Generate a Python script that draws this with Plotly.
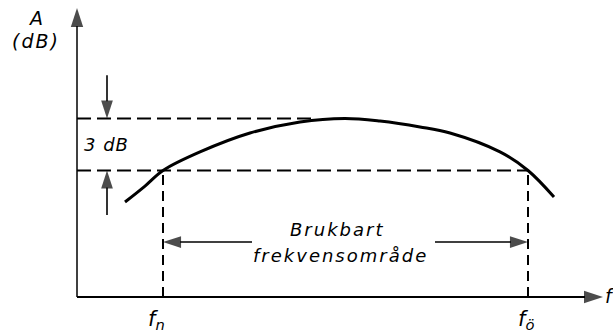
import plotly.graph_objects as go

# ---- data (frequency in arbitrary units, amplitude in dB) ----
freq = [4.8, 6.8, 8.6, 12.3, 17.3, 22.3, 26.8, 30.3, 34.3, 37.3, 42.3, 45.1, 47.7]
amplitude_db = [5.48, 6.40, 7.3, 8.37, 9.46, 10.10, 10.3, 10.15, 9.81, 9.46, 8.37, 7.3, 5.77]
f_n = 8.6          # lower limit frequency
f_o = 45.1         # upper limit frequency
A_peak = 10.3      # max amplitude
A_cut = A_peak - 3 # -3 dB level
f_max = 52.6       # end of frequency axis
A_max = 16.67      # end of amplitude axis
peak_dash_end = 23.6

label_A = "A"
label_dB = "(dB)"
label_3db = "3 dB"
label_range1 = "Brukbart"
label_range2 = "frekvensområde"
label_fn = "f<sub>n</sub>"
label_fo = "f<sub>ö</sub>"
label_f = "f"

FONT = "DejaVu Sans"
black = "black"

fig = go.Figure()

def arrow(xs, ys, width, size):
    fig.add_trace(go.Scatter(
        x=xs, y=ys, mode="lines+markers",
        line=dict(color=black, width=width),
        marker=dict(symbol=["circle", "arrow"], size=[0, size], color=black,
                    angleref="previous", line=dict(width=0)),
        hoverinfo="skip", showlegend=False, cliponaxis=False))

def dash(xs, ys, pattern):
    fig.add_trace(go.Scatter(
        x=xs, y=ys, mode="lines",
        line=dict(color=black, width=2, dash=pattern),
        hoverinfo="skip", showlegend=False))

# axes
arrow([0, 0], [0, A_max], 1.5, 20)
arrow([0, f_max], [0, 0], 2.2, 20)

# dashed reference lines
dash([0, peak_dash_end], [A_peak, A_peak], "14px,6px")
dash([0, f_o], [A_cut, A_cut], "14px,6px")
dash([f_n, f_n], [0, A_cut], "10px,6px")
dash([f_o, f_o], [0, A_cut], "10px,6px")

# response curve
fig.add_trace(go.Scatter(
    x=freq, y=amplitude_db, mode="lines", line=dict(color=black, width=3, shape="spline"),
    hoverinfo="skip", showlegend=False))

# 3 dB arrows
arrow([3.0, 3.0], [12.8, A_peak], 1.6, 19)
arrow([3.0, 3.0], [4.73, A_cut], 1.6, 19)

# usable range arrows
arrow([17.5, f_n], [3.17, 3.17], 1.6, 19)
arrow([35.8, f_o], [3.17, 3.17], 1.6, 19)

def label(x, y, text, size=18, spacing=0):
    t = f"<i>{text}</i>"
    if spacing:
        t = f"<span style='letter-spacing:{spacing}px;font-size:{size}px'>{t}</span>"
    fig.add_annotation(x=x, y=y, text=t, showarrow=False,
                       font=dict(family=FONT, size=size, color=black),
                       xanchor="center", yanchor="middle")

label(-4.2, 16.1, label_A, size=19)
label(-4.1, 14.77, label_dB, size=19, spacing=2)
label(2.9, (A_peak + A_cut) / 2, label_3db, size=18, spacing=1)
label(26.0, 3.92, label_range1, spacing=2)
label(26.3, 2.42, label_range2, spacing=2)
label(f_n - 0.7, -1.35, label_fn, size=21)
label(f_o - 0.2, -1.35, label_fo, size=21)
label(53.3, 0.05, label_f, size=19)

fig.update_layout(
    width=613, height=334, margin=dict(l=0, r=0, t=0, b=0),
    paper_bgcolor="white", plot_bgcolor="white",
    xaxis=dict(range=[-7.7, 53.6], visible=False, fixedrange=True),
    yaxis=dict(range=[-2.135, 17.135], visible=False, fixedrange=True),
    showlegend=False,
)

fig.write_html("out.html", config={"displayModeBar": False},
               post_script="document.body.style.margin='0';document.body.style.overflow='hidden';")
